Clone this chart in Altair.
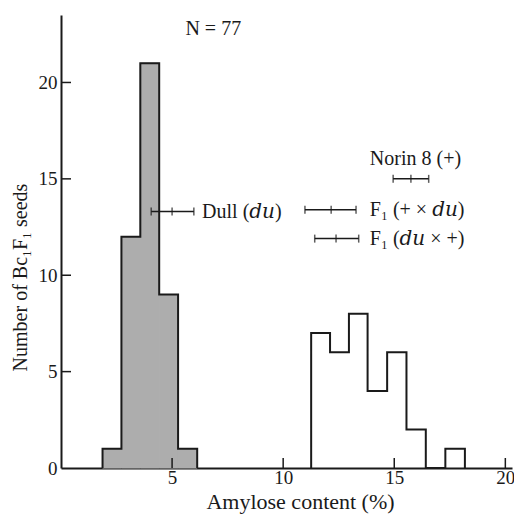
import altair as alt
import pandas as pd

# Histogram of amylose content (bin edges and counts)
dull_edges = [1.87, 2.72, 3.57, 4.42, 5.27, 6.13]
dull_counts = [1, 12, 21, 9, 1]
norm_edges = [11.26, 12.11, 12.96, 13.80, 14.68, 15.55, 16.42, 17.30, 18.18]
norm_counts = [7, 6, 8, 4, 6, 2, 0, 1]

# Parental / F1 means with ranges
eb_names = ["Dull", "Norin 8", "F1a", "F1b"]
eb_lo = [4.06, 14.95, 10.98, 11.42]
eb_mid = [5.00, 15.75, 12.16, 12.38]
eb_hi = [5.98, 16.55, 13.28, 13.40]
eb_y = [13.3, 15.0, 13.4, 11.9]

# Labels
lab_text = ["Dull  (\U0001D451\U0001D462)", "Norin 8  (+)", "F\u2081 (+ \u00d7 \U0001D451\U0001D462)",
            "F\u2081 (\U0001D451\U0001D462 \u00d7 +)", "N = 77"]
lab_x = [6.35, 13.9, 13.9, 13.9, 5.6]
lab_y = [13.3, 16.05, 13.4, 11.9, 22.75]

tick_vals_x = [5, 10, 15, 20]
tick_vals_y = [5, 10, 15, 20]

FONT = "Liberation Serif, DejaVu Serif, serif"
XD = [0, 20.3]
YD = [0, 23.5]

def outline(edges, counts, group):
    rows = [{"x": edges[0], "y": 0, "g": group, "o": 0}]
    for i, c in enumerate(counts):
        rows.append({"x": edges[i], "y": c, "g": group, "o": i + 1})
    rows.append({"x": edges[-1], "y": 0, "g": group, "o": len(counts) + 1})
    return rows

bars = pd.DataFrame(
    [{"x": dull_edges[i], "x2": dull_edges[i + 1], "y": c} for i, c in enumerate(dull_counts)]
)
line_df = pd.DataFrame(outline(dull_edges, dull_counts, "dull") + outline(norm_edges, norm_counts, "norm"))

XT = "Amylose  content  (%)"
YT = "Number of Bc\u2081F\u2081 seeds"
xs = alt.Scale(domain=XD, nice=False, zero=False)
ys = alt.Scale(domain=YD, nice=False)
AX = alt.Axis(values=tick_vals_x, title=XT, ticks=False, labelPadding=0, titlePadding=4, titleX=239)
AY = alt.Axis(values=[0] + tick_vals_y, title=YT, ticks=False, labelPadding=4, titleY=262, titleX=-31)

def X(f):
    return alt.X(f, scale=xs, axis=AX, title=XT)

def Y(f):
    return alt.Y(f, scale=ys, axis=AY, title=YT)

fill = alt.Chart(bars).mark_rect(color="#adadad", stroke="#adadad", strokeWidth=1).encode(
    x=X("x:Q"), x2="x2:Q", y=Y("y:Q"), y2=alt.datum(0),
)

line = alt.Chart(line_df).mark_line(interpolate="step-after", color="#1a1a1a", strokeWidth=2).encode(
    x=X("x:Q"), y=Y("y:Q"), detail="g:N", order="o:Q"
)

xt = pd.DataFrame({"x": tick_vals_x, "y": [0] * 4, "y2": [0.52] * 4})
xticks = alt.Chart(xt).mark_rule(color="#1a1a1a", strokeWidth=1.5).encode(
    x=X("x:Q"), y=Y("y:Q"), y2="y2:Q"
)
yt = pd.DataFrame({"y": tick_vals_y, "x": [0] * 4, "x2": [0.45] * 4})
yticks = alt.Chart(yt).mark_rule(color="#1a1a1a", strokeWidth=1.5).encode(
    y=Y("y:Q"), x=X("x:Q"), x2="x2:Q"
)

eb = pd.DataFrame({"n": eb_names, "x": eb_lo, "mid": eb_mid, "x2": eb_hi, "y": eb_y})
eb_rule = alt.Chart(eb).mark_rule(color="#1a1a1a", strokeWidth=1.5).encode(
    x=X("x:Q"), x2="x2:Q", y=Y("y:Q")
)
caps = eb.melt(id_vars=["n", "y"], value_vars=["x", "mid", "x2"], value_name="xv")
caps = caps[["n", "y", "xv"]].rename(columns={"xv": "x"})
eb_caps = alt.Chart(caps).mark_tick(orient="vertical", color="#1a1a1a", size=8, thickness=1.5).encode(
    x=X("x:Q"), y=Y("y:Q")
)

labs = pd.DataFrame({"t": lab_text, "x": lab_x, "y": lab_y})
texts = alt.Chart(labs).mark_text(align="left", baseline="middle", font=FONT, fontSize=20, color="#1a1a1a").encode(
    x=X("x:Q"), y=Y("y:Q"), text="t:N"
)

chart = alt.layer(fill, line, xticks, yticks, eb_rule, eb_caps, texts).properties(
    width=451, height=453,
    autosize=alt.AutoSizeParams(type="none"),
    padding={"left": 53, "top": 7, "right": 2, "bottom": 55},
).configure_axis(
    domainColor="#1a1a1a", domainWidth=2, labelFont=FONT, titleFont=FONT, labelFontSize=19,
    titleFontSize=22, titleFontWeight="normal", labelColor="#1a1a1a", titleColor="#1a1a1a", grid=False,
).configure_axisY(titleFontSize=20).configure_view(stroke=None)

chart.save("out.html", embed_options={"renderer": "svg", "actions": False})
